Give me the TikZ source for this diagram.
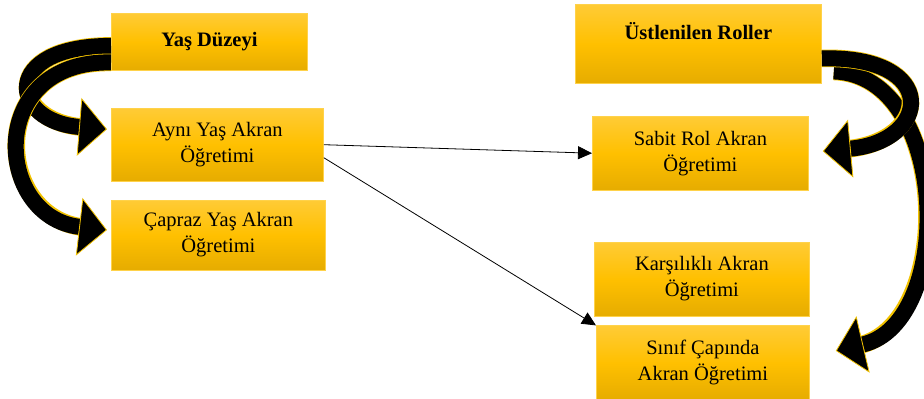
\documentclass[tikz,border=0pt]{standalone}
\usepackage{fontspec}
\setmainfont{Liberation Serif}
\usetikzlibrary{arrows.meta,positioning,calc}

\definecolor{goldtop}{HTML}{FFCB36}
\definecolor{goldmid}{HTML}{FFC000}
\definecolor{goldbot}{HTML}{E6AC00}
\definecolor{goldline}{HTML}{FFD24A}
\definecolor{ribbonedge}{HTML}{F2C200}

\begin{document}
\begin{tikzpicture}[
        ->,>={Triangle[length=14pt,width=13pt]},
        x=1pt, y=-1pt, line width=0.8pt
    ]

    \tikzstyle{box} = [rectangle, draw=goldline, line width=0.8pt,
        top color=goldtop, bottom color=goldbot, middle color=goldmid,
        align=center, inner sep=0pt, font=\fontsize{20.5}{26}\selectfont]
    \tikzstyle{ribbon} = [line width=16pt, draw=black,
        -{Triangle[length=28pt, width=58pt, fill=black, color=ribbonedge, line width=0.8pt]},
        preaction={draw=ribbonedge, line width=17.6pt, -, shorten >=24pt}]

    \useasboundingbox (0,0) rectangle (924,399);
    \clip (0,0) rectangle (924,399);

    \node[box, minimum width=196pt, minimum height=57pt, anchor=north west] (yas) at (111,13) {\textbf{Yaş Düzeyi}};
    \node[box, minimum width=212pt, minimum height=73pt] (ayni)   [below=37pt of yas.south west, anchor=north west]  {Aynı Yaş Akran\\Öğretimi};
    \node[box, minimum width=214pt, minimum height=70pt] (capraz) [below=18pt of ayni.south west, anchor=north west] {Çapraz Yaş Akran\\Öğretimi};

    \node[box, minimum width=246pt, minimum height=79pt, anchor=north west] (roller) at (575,4) {\textbf{Üstlenilen Roller}\\ \mbox{}};
    \node[box, minimum width=216pt, minimum height=74pt] (sabit) [below=32pt of roller.south west, anchor=north west, xshift=17pt] {Sabit Rol Akran\\Öğretimi};
    \node[box, minimum width=215pt, minimum height=74pt] (karsi) [below=51pt of sabit.south west, anchor=north west, xshift=2pt]  {Karşılıklı Akran\\Öğretimi};
    \node[box, minimum width=213pt, minimum height=74pt] (sinif) [below=9pt of karsi.south west, anchor=north west, xshift=2pt]   {Sınıf Çapında\\Akran Öğretimi};

    % kavisli oklar
    \draw[ribbon] ($(yas.west)+(0,4)$) .. controls +(-111,0) and +(-98,-8) .. ($(ayni.west)+(-4,-15.5)$);
    \draw[ribbon] ($(yas.west)+(0,20.5)$) .. controls +(-126,-2) and +(-113,-13) .. ($(capraz.west)+(-4,-5)$);
    \draw[ribbon] ($(roller.east)+(12,27.5)$) .. controls +(117,4) and +(120,-28) .. ($(sinif.east)+(26,-12)$);
    \draw[ribbon] ($(roller.east)+(0,14.5)$) .. controls +(119,-3) and +(108,-10) .. ($(sabit.east)+(14,-2)$);

    \path
        (ayni.east)               edge (sabit.west)
        ([yshift=-13pt]ayni.east) edge (sinif.north west)
    ;

\end{tikzpicture}
\end{document}
